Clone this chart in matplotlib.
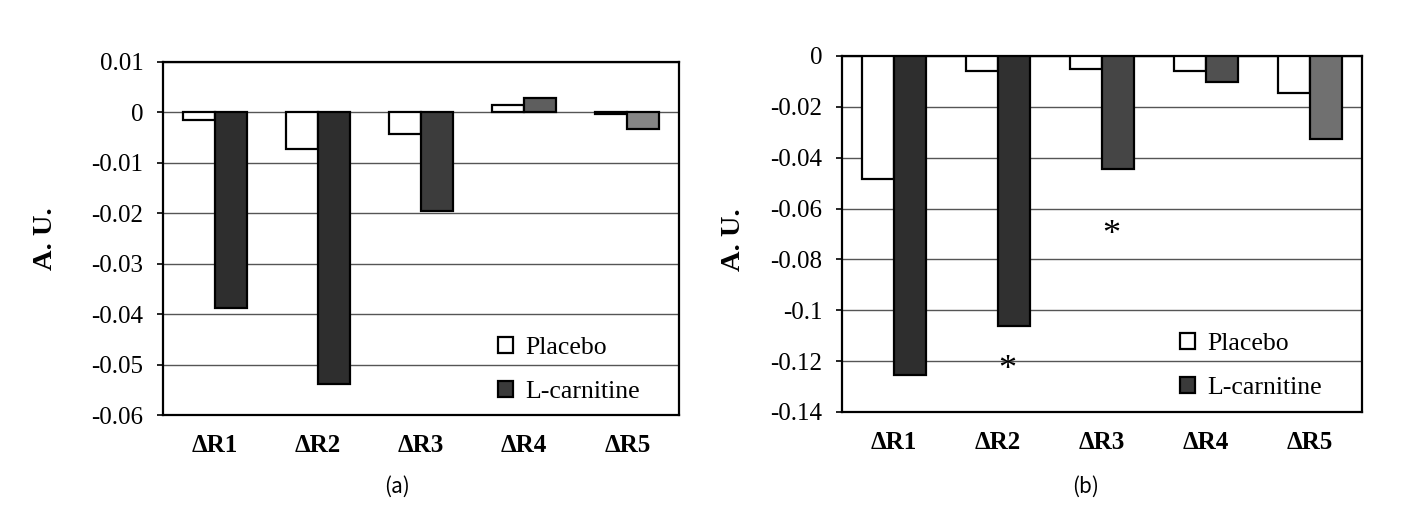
import matplotlib
matplotlib.use("Agg")
import matplotlib.pyplot as plt
import matplotlib.transforms as mtrans
import numpy as np
from matplotlib.patches import Patch

# ---------------- data ----------------
categories = ["ΔR1", "ΔR2", "ΔR3", "ΔR4", "ΔR5"]
series_names = ["Placebo", "L-carnitine"]

# panel (a)
placebo_a = [-0.0015, -0.0073, -0.0042, 0.0014, -0.0003]
carnitine_a = [-0.0387, -0.0538, -0.0196, 0.0028, -0.0032]
yticks_a = [0.01, 0, -0.01, -0.02, -0.03, -0.04, -0.05, -0.06]
yticklabels_a = ["0.01", "0", "-0.01", "-0.02", "-0.03", "-0.04", "-0.05", "-0.06"]

# panel (b)
placebo_b = [-0.0482, -0.0058, -0.0050, -0.0058, -0.0145]
carnitine_b = [-0.1253, -0.1062, -0.0445, -0.0104, -0.0325]
yticks_b = [0, -0.02, -0.04, -0.06, -0.08, -0.1, -0.12, -0.14]
yticklabels_b = ["0", "-0.02", "-0.04", "-0.06", "-0.08", "-0.1", "-0.12", "-0.14"]
# significance markers (category index, y value)
stars_b_idx = [1, 2]
stars_b_y = [-0.1203, -0.0675]

# scan shading of the L-carnitine bars
shade_a = ["#2e2e2e", "#2e2e2e", "#3c3c3c", "#5e5e5e", "#858585"]
shade_b = ["#2e2e2e", "#303030", "#454545", "#505050", "#707070"]
legend_shade = "#3a3a3a"

serif = ["Liberation Serif", "DejaVu Serif"]

fig = plt.figure(figsize=(14.06, 5.30), dpi=100)
fig.patch.set_facecolor("white")

ax_a = fig.add_axes([163 / 1406, 1 - 415 / 530, 516 / 1406, 353 / 530])
ax_b = fig.add_axes([842 / 1406, 1 - 412 / 530, 520 / 1406, 356 / 530])

width = 0.31


def draw(ax, placebo, carn, shades, yticks, ylabels, ylim, legend_anchor):
    x = np.arange(len(categories))
    ax.set_axisbelow(True)
    ax.bar(x - width / 2, placebo, width, facecolor="white", edgecolor="black",
           linewidth=1.6, zorder=3)
    ax.bar(x + width / 2, carn, width, color=shades, edgecolor="black",
           linewidth=1.6, zorder=3)
    ax.set_xlim(-0.5, len(categories) - 0.5)
    ax.set_ylim(*ylim)
    ax.set_yticks(yticks)
    ax.set_yticklabels(ylabels, family=serif, fontsize=18)
    ax.set_xticks(x)
    ax.set_xticklabels(categories, family=serif, fontsize=18, fontweight="bold")
    ax.tick_params(axis="x", length=0, pad=14)
    ax.tick_params(axis="y", direction="out", length=4, width=1.2, pad=10)
    ax.yaxis.grid(True, color="#555555", linewidth=1.0)
    for s in ax.spines.values():
        s.set_linewidth(1.6)
        s.set_color("black")
    ax.set_ylabel("A. U.", family=serif, fontsize=20.5, fontweight="bold")
    handles = [Patch(facecolor="white", edgecolor="black", linewidth=1.6),
               Patch(facecolor=legend_shade, edgecolor="black", linewidth=1.6)]
    ax.legend(handles, series_names, loc="upper left", bbox_to_anchor=legend_anchor,
              frameon=False, borderpad=0, borderaxespad=0, handlelength=0.6,
              handleheight=0.6, handletextpad=0.45, labelspacing=0.85,
              prop={"family": serif, "size": 18.5})


draw(ax_a, placebo_a, carnitine_a, shade_a, yticks_a, yticklabels_a,
     (-0.06, 0.01), (0.649, 0.221))
ax_a.yaxis.set_label_coords(-0.2035, 0.5)

draw(ax_b, placebo_b, carnitine_b, shade_b, yticks_b, yticklabels_b,
     (-0.14, 0.0), (0.65, 0.223))
ax_b.yaxis.set_label_coords(-0.185, 0.485)

star_tr = mtrans.offset_copy(ax_b.transData, fig=fig, y=-6, units="points")
for i, yv in zip(stars_b_idx, stars_b_y):
    ax_b.text(i + 0.09, yv, "*", family=serif, fontsize=26, ha="center",
              va="center", zorder=4, transform=star_tr)

fig.text(397 / 1406, 1 - 487 / 530, "(a)", family=["Noto Sans CJK KR", "DejaVu Sans"],
         fontsize=15, ha="center", va="center")
fig.text(1086 / 1406, 1 - 487 / 530, "(b)", family=["Noto Sans CJK KR", "DejaVu Sans"],
         fontsize=15, ha="center", va="center")

fig.savefig("out.png", dpi=100, facecolor="white")
